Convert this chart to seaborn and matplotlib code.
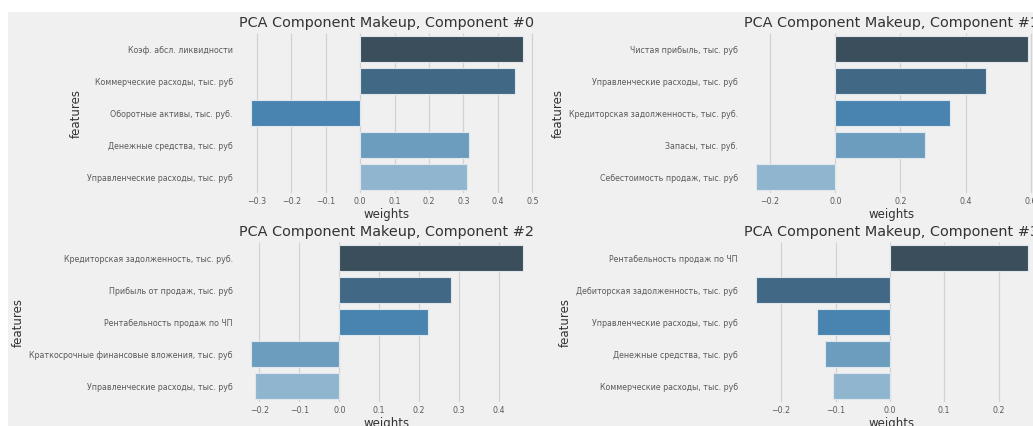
import matplotlib
matplotlib.use("Agg")
import matplotlib.pyplot as plt
from matplotlib.patches import Rectangle
import seaborn as sns
import pandas as pd

# PCA loadings: the five strongest features of each component
comp0_features = [
    "Коэф. абсл. ликвидности",
    "Коммерческие расходы, тыс. руб",
    "Оборотные активы, тыс. руб.",
    "Денежные средства, тыс. руб",
    "Управленческие расходы, тыс. руб",
]
comp0_weights = [0.474, 0.451, -0.318, 0.316, 0.311]

comp1_features = [
    "Чистая прибыль, тыс. руб",
    "Управленческие расходы, тыс. руб",
    "Кредиторская задолженность, тыс. руб.",
    "Запасы, тыс. руб.",
    "Себестоимость продаж, тыс. руб",
]
comp1_weights = [0.593, 0.463, 0.352, 0.275, -0.245]

comp2_features = [
    "Кредиторская задолженность, тыс. руб.",
    "Прибыль от продаж, тыс. руб",
    "Рентабельность продаж по ЧП",
    "Краткосрочные финансовые вложения, тыс. руб",
    "Управленческие расходы, тыс. руб",
]
comp2_weights = [0.461, 0.279, 0.223, -0.222, -0.211]

comp3_features = [
    "Рентабельность продаж по ЧП",
    "Дебиторская задолженность, тыс. руб",
    "Управленческие расходы, тыс. руб",
    "Денежные средства, тыс. руб",
    "Коммерческие расходы, тыс. руб",
]
comp3_weights = [0.2547, -0.247, -0.134, -0.119, -0.104]

components = [
    (0, comp0_features, comp0_weights),
    (1, comp1_features, comp1_weights),
    (2, comp2_features, comp2_weights),
    (3, comp3_features, comp3_weights),
]

plt.style.use("fivethirtyeight")
plt.rcParams["font.family"] = ["DejaVu Sans"]

BG = "#f0f0f0"
# darkest bar first
bar_colors = sns.color_palette("Blues_d", 5)[::-1]

fig, axes = plt.subplots(2, 2, figsize=(10.33, 4.26), dpi=100)
fig.patch.set_facecolor("white")
fig.add_artist(Rectangle((8 / 1033, 0), 1, (426 - 12) / 426,
                         transform=fig.transFigure, facecolor=BG,
                         edgecolor="none", zorder=-5))
fig.subplots_adjust(left=0.2294, right=1.0087, bottom=0.0563, top=0.9225,
                    wspace=0.683, hspace=0.306)

for ax, (num, feats, weights) in zip(axes.flat, components):
    df = pd.DataFrame({"features": feats, "weights": weights})
    sns.barplot(data=df, x="weights", y="features", hue="features",
                palette=bar_colors, legend=False, ax=ax,
                edgecolor="#dfe6ec", linewidth=0.8)
    ax.set_facecolor(BG)
    ax.set_title(f"PCA Component Makeup, Component #{num}",
                 fontsize=10.35, color="#333333", pad=4)
    ax.set_xlabel("weights", fontsize=8.5, color="#333333", labelpad=1)
    ax.set_ylabel("features", fontsize=8.5, color="#333333", labelpad=3)
    ax.tick_params(axis="both", labelsize=5.7, colors="#5a5a5a", length=0, pad=3)
    ax.grid(axis="x", color="#d2d2d2", linewidth=0.9)
    ax.grid(axis="y", visible=False)
    for s in ax.spines.values():
        s.set_visible(False)

fig.savefig("out.png", dpi=100, facecolor=fig.get_facecolor())
